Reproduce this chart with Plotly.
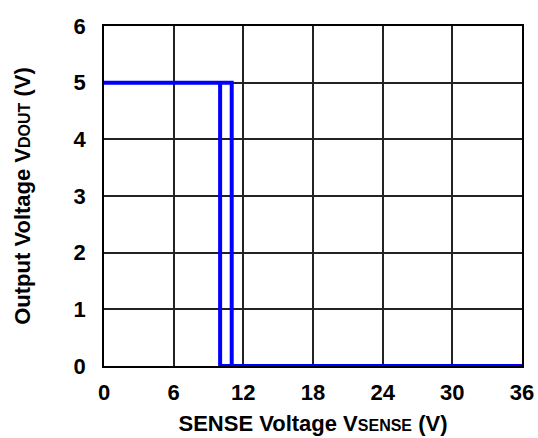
import plotly.graph_objects as go

# falling edge (rising input) and rising edge (falling input) paths
up_x = [0, 11, 11, 36]
up_y = [5, 5, 0, 0]
down_x = [10, 10, 36]
down_y = [5, 0, 0]

x_ticks = [0, 6, 12, 18, 24, 30, 36]
y_ticks = [0, 1, 2, 3, 4, 5, 6]

fig = go.Figure()
for xs, ys in [(up_x, up_y), (down_x, down_y)]:
    fig.add_trace(go.Scatter(x=xs, y=ys, mode="lines",
                             line=dict(color="#0000ff", width=4), showlegend=False))

axis_font = dict(family="Liberation Sans, Arial", size=22, color="black")
title_font = dict(family="Liberation Sans, Arial", size=22, color="black")
fig.update_layout(
    width=538, height=438,
    margin=dict(l=104, r=16, t=26, b=72),
    paper_bgcolor="white", plot_bgcolor="white",
    font=dict(family="Liberation Sans, Arial", color="black"),
)
fig.update_xaxes(
    range=[0, 36], tickvals=x_ticks, ticktext=[f"<b>{v}</b>" for v in x_ticks],
    tickfont=axis_font, showgrid=True, gridcolor="#222", gridwidth=1.5,
    showline=True, linecolor="black", linewidth=1.5, mirror=True, zeroline=False,
    ticks="outside", ticklen=6, tickcolor="white", automargin=False,
    title=dict(text="<b>SENSE Voltage V<span style='font-size:16px'>SENSE</span> (V)</b>",
               font=title_font, standoff=11),
)
fig.update_yaxes(
    range=[0, 6], tickvals=y_ticks, ticktext=[f"<b>{v}</b>" for v in y_ticks],
    tickfont=axis_font, showgrid=True, gridcolor="#222", gridwidth=1.5,
    showline=True, linecolor="black", linewidth=1.5, mirror=True, zeroline=False,
    ticks="outside", ticklen=12, tickcolor="white", automargin=False,
    title=dict(text="<b>Output Voltage V<span style='font-size:16px'>DOUT</span> (V)</b>",
               font=title_font, standoff=37),
)

fig.write_html("out.html", config={"displayModeBar": False},
               post_script="document.body.style.margin='0';")
